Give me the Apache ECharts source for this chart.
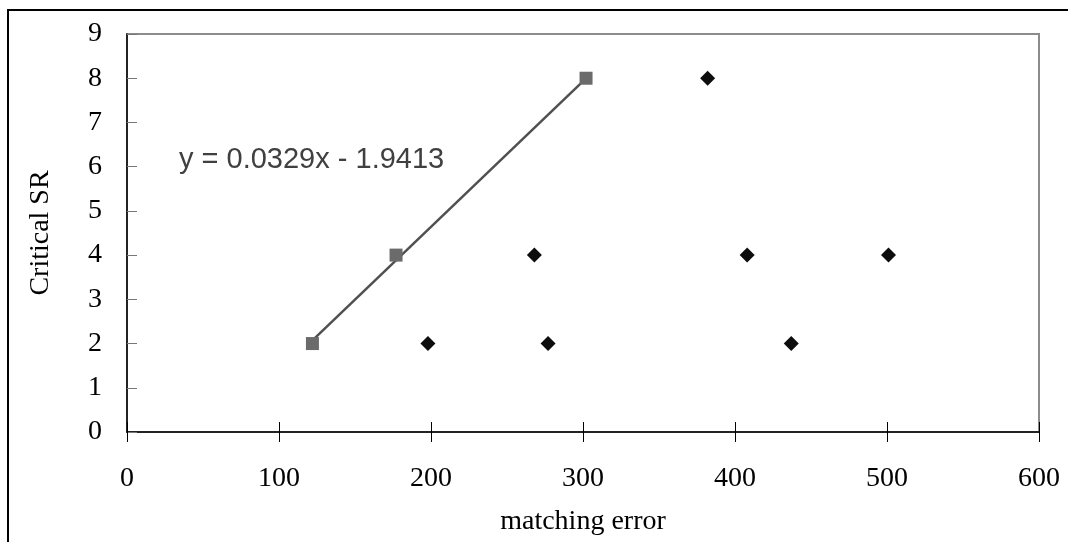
<!DOCTYPE html>
<html>
<head>
<meta charset="utf-8">
<script src="https://cdn.jsdelivr.net/npm/echarts@6/dist/echarts.min.js"></script>
<style>
  html, body { margin: 0; padding: 0; background: #fff; }
  #chart { width: 1069px; height: 542px; }
</style>
</head>
<body>
<div id="chart"></div>
<script>
// 数据
var xTicks = [0, 100, 200, 300, 400, 500, 600];
var yTicks = [0, 1, 2, 3, 4, 5, 6, 7, 8, 9];
var squareX = [122, 177, 302];
var squareY = [2, 4, 8];
var diamondX = [198, 277, 268, 382, 408, 437, 501];
var diamondY = [2, 2, 4, 8, 4, 2, 4];
var trendSlope = 0.0329;
var trendIntercept = -1.9413;
var trendLabel = 'y = 0.0329x - 1.9413';

var serif = '"Liberation Serif", "Times New Roman", serif';
var sans = '"Liberation Sans", Arial, sans-serif';

var squares = squareX.map(function (x, i) { return [x, squareY[i]]; });
var diamonds = diamondX.map(function (x, i) { return [x, diamondY[i]]; });
var xmin = Math.min.apply(null, squareX), xmax = Math.max.apply(null, squareX);
var trend = [[xmin, trendSlope * xmin + trendIntercept], [xmax, trendSlope * xmax + trendIntercept]];

var myChart = echarts.init(document.getElementById('chart'));

var option = {
    animation: false,
    backgroundColor: '#fff',
    title: {
        text: trendLabel,
        left: 174,
        top: 140,
        textStyle: { fontFamily: sans, fontSize: 29, fontWeight: 'normal', color: '#404040' }
    },
    grid: {
        left: 127, right: 30, top: 34, bottom: 110,
        show: true, borderColor: '#8c8c8c', borderWidth: 2, backgroundColor: 'transparent'
    },
    xAxis: [{
        type: 'value', min: xTicks[0], max: xTicks[xTicks.length - 1], interval: 100,
        name: 'matching error', nameLocation: 'middle', nameGap: 76,
        nameTextStyle: { fontFamily: serif, fontSize: 28, color: '#000' },
        axisLine: { show: true, lineStyle: { color: '#000', width: 1.5 } },
        axisTick: { show: true, length: 10, lineStyle: { color: '#000' } },
        axisLabel: { fontFamily: serif, fontSize: 28, color: '#000', margin: 33 },
        splitLine: { show: false }
    }, {
        type: 'value', position: 'bottom', min: xTicks[0], max: xTicks[xTicks.length - 1], interval: 100,
        axisLine: { show: false },
        axisTick: { show: true, inside: true, length: 10, lineStyle: { color: '#000' } },
        axisLabel: { show: false },
        splitLine: { show: false }
    }],
    yAxis: {
        type: 'value', min: yTicks[0], max: yTicks[yTicks.length - 1], interval: 1,
        name: 'Critical SR', nameLocation: 'middle', nameGap: 72, nameRotate: 90,
        nameTextStyle: { fontFamily: serif, fontSize: 28, color: '#000' },
        axisLine: { show: true, lineStyle: { color: '#000', width: 1.5 } },
        axisTick: { show: true, inside: true, length: 10, lineStyle: { color: '#777' } },
        axisLabel: { fontFamily: serif, fontSize: 28, color: '#000', margin: 25 },
        splitLine: { show: false }
    },
    graphic: [{
        type: 'polyline',
        shape: { points: [[8, 542], [8, 10], [1068, 10]] },
        style: { stroke: '#000', lineWidth: 2, fill: null }
    }],
    series: [{
        type: 'line', data: trend, symbol: 'none',
        lineStyle: { color: '#505050', width: 2.5 }, z: 2
    }, {
        type: 'scatter', data: squares, symbol: 'rect', symbolSize: 13,
        itemStyle: { color: '#6b6b6b', opacity: 1 }, z: 3
    }, {
        type: 'scatter', data: diamonds, symbol: 'diamond', symbolSize: 15,
        itemStyle: { color: '#0d0d0d', opacity: 1 }, z: 3
    }]
};

myChart.setOption(option);
</script>
</body>
</html>
